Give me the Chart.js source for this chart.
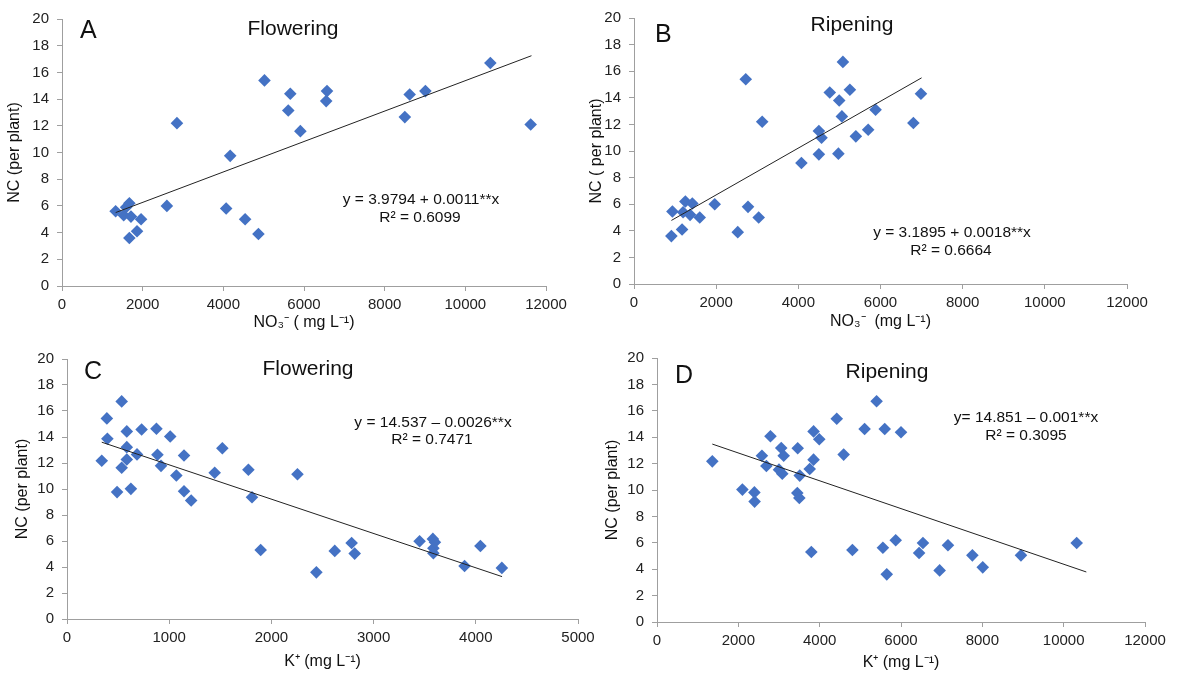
<!DOCTYPE html>
<html>
<head>
<meta charset="utf-8">
<script src="https://cdn.jsdelivr.net/npm/chart.js@4"></script>
<style>
body { margin: 0; background: #fff; }
#wrap { position: relative; width: 1185px; height: 673px; overflow: hidden; }
.panel { position: absolute; }
</style>
</head>
<body>
<div id="wrap">
  <div class="panel" style="left:0;top:0;width:590px;height:340px"><canvas id="chartA"></canvas></div>
  <div class="panel" style="left:580px;top:0;width:605px;height:340px"><canvas id="chartB"></canvas></div>
  <div class="panel" style="left:0;top:340px;width:600px;height:333px"><canvas id="chartC"></canvas></div>
  <div class="panel" style="left:600px;top:340px;width:585px;height:333px"><canvas id="chartD"></canvas></div>
</div>
<script>
// A: NO3- at flowering
const no3FlowX = [1330, 1530, 1590, 1670, 1710, 1960, 1860, 1670, 2600, 2850, 4070, 4170, 4540, 4870, 5020, 5610, 5660, 5910, 6550, 6570, 8500, 8620, 9010, 10620, 11620];
const no3FlowY = [5.6, 5.3, 5.9, 6.2, 5.2, 5.0, 4.1, 3.6, 6.0, 12.2, 5.8, 9.75, 5.0, 3.9, 15.4, 13.15, 14.4, 11.6, 13.85, 14.6, 12.65, 14.35, 14.6, 16.7, 12.1];
const no3FlowTrendX = [1330, 11640];
const no3FlowTrendY = [5.5, 17.25];

// B: NO3- at ripening
const no3RipeX = [910, 935, 1170, 1195, 1250, 1365, 1420, 1600, 1965, 2525, 2720, 2775, 3035, 3120, 4075, 4500, 4500, 4565, 4765, 4975, 4995, 5060, 5085, 5255, 5400, 5700, 5880, 6800, 6985];
const no3RipeY = [3.6, 5.45, 4.1, 5.4, 6.2, 5.2, 6.05, 5.0, 6.0, 3.9, 15.4, 5.8, 5.0, 12.2, 9.1, 9.75, 11.5, 11.0, 14.4, 9.8, 13.8, 12.6, 16.7, 14.6, 11.1, 11.6, 13.1, 12.1, 14.3];
const no3RipeTrendX = [910, 7000];
const no3RipeTrendY = [4.78, 15.5];

// C: K+ at flowering
const kFlowX = [340, 390, 395, 490, 535, 535, 585, 585, 585, 625, 685, 730, 875, 885, 920, 1010, 1070, 1145, 1145, 1215, 1445, 1520, 1775, 1810, 1895, 2255, 2440, 2620, 2785, 2815, 3450, 3580, 3585, 3585, 3600, 3890, 4045, 4255];
const kFlowY = [12.17, 15.43, 13.86, 9.76, 16.74, 11.63, 14.43, 13.22, 12.27, 10.01, 12.66, 14.58, 14.63, 12.63, 11.78, 14.04, 11.04, 12.58, 9.83, 9.11, 11.25, 13.14, 11.48, 9.37, 5.31, 11.14, 3.59, 5.24, 5.85, 5.03, 5.98, 6.16, 5.44, 5.06, 5.9, 4.08, 5.62, 3.93];
const kFlowTrendX = [340, 4257];
const kFlowTrendY = [13.6, 3.26];

// D: K+ at ripening
const kRipeX = [1360, 2100, 2395, 2400, 2580, 2690, 2790, 3000, 3055, 3080, 3115, 3460, 3450, 3500, 3510, 3755, 3795, 3850, 3850, 3990, 4420, 4590, 4805, 5105, 5400, 5555, 5600, 5650, 5870, 6000, 6445, 6540, 6950, 7155, 7755, 8010, 8950, 10320];
const kRipeY = [12.17, 10.03, 9.82, 9.12, 12.6, 11.82, 14.07, 11.54, 13.18, 11.24, 12.6, 13.16, 9.77, 9.39, 11.09, 11.59, 5.3, 14.44, 12.3, 13.84, 15.4, 12.68, 5.45, 14.62, 16.72, 5.63, 14.62, 3.61, 6.19, 14.37, 5.23, 5.98, 3.91, 5.81, 5.05, 4.14, 5.05, 5.98];
const kRipeTrendX = [1360, 10557];
const kRipeTrendY = [13.48, 3.79];

const FONT = "'Liberation Sans', Arial, sans-serif";
Chart.defaults.font.family = FONT;
Chart.defaults.color = '#222';

const notesPlugin = {
    id: 'notes',
    afterDraw(chart, args, opts) {
        const ctx = chart.ctx;
        ctx.save();
        ctx.fillStyle = '#111';
        ctx.textBaseline = 'alphabetic';
        opts.items.forEach(t => {
            ctx.font = t.size + 'px ' + FONT;
            ctx.textAlign = t.align || 'center';
            ctx.fillText(t.text, t.x, t.y);
        });
        ctx.restore();
    }
};

function makePanel(id, xs, ys, tx, ty, cfg) {
    const points = xs.map((x, i) => ({x: x, y: ys[i]}));
    const trend = tx.map((x, i) => ({x: x, y: ty[i]}));
    const axisColor = '#9f9f9f';

    new Chart(document.getElementById(id), {
        type: 'scatter',
        data: {
            datasets: [{
                data: trend,
                showLine: true,
                borderColor: '#222',
                borderWidth: 1,
                pointRadius: 0,
                order: 0
            }, {
                data: points,
                pointStyle: 'rectRot',
                pointRadius: 6.3,
                pointHoverRadius: 6.3,
                backgroundColor: '#4472C4',
                borderColor: '#4472C4',
                borderWidth: 0,
                order: 1
            }]
        },
        options: {
            animation: false,
            responsive: true,
            maintainAspectRatio: false,
            layout: { padding: cfg.pad },
            plugins: {
                legend: { display: false },
                tooltip: { enabled: false },
                notes: { items: cfg.notes }
            },
            scales: {
                x: {
                    type: 'linear',
                    min: 0,
                    max: cfg.xMax,
                    afterFit: s => { s.height = cfg.xH; },
                    ticks: {
                        stepSize: cfg.xStep,
                        autoSkip: false,
                        maxRotation: 0,
                        padding: 5,
                        font: { size: 15 },
                        callback: v => String(v)
                    },
                    grid: { drawOnChartArea: false, color: axisColor, tickLength: 5 },
                    border: { color: axisColor },
                    title: {
                        display: true,
                        text: cfg.xTitle,
                        font: { size: 16 },
                        color: '#111',
                        padding: { top: 0, bottom: cfg.xTitlePad }
                    }
                },
                y: {
                    min: 0,
                    max: 20,
                    afterFit: s => { s.width = cfg.yW; },
                    ticks: {
                        stepSize: 2,
                        autoSkip: false,
                        padding: 8,
                        font: { size: 15 }
                    },
                    grid: { drawOnChartArea: false, color: axisColor, tickLength: 5 },
                    border: { color: axisColor },
                    title: {
                        display: true,
                        text: cfg.yTitle,
                        font: { size: 16 },
                        color: '#111',
                        padding: { top: cfg.yTitlePad, bottom: 0 }
                    }
                }
            }
        },
        plugins: [notesPlugin]
    });
}

makePanel('chartA', no3FlowX, no3FlowY, no3FlowTrendX, no3FlowTrendY, {
    pad: { top: 19, right: 44, left: 0, bottom: 0 },
    yW: 62, xH: 54, xMax: 12000, xStep: 2000,
    xTitle: 'NO\u2083\u207B ( mg L\u207B\u00B9)', xTitlePad: 7.4,
    yTitle: 'NC (per plant)', yTitlePad: 5.4,
    notes: [
        { text: 'A', x: 80, y: 38, size: 25, align: 'left' },
        { text: 'Flowering', x: 293, y: 35, size: 21 },
        { text: 'y = 3.9794 + 0.0011**x', x: 421, y: 204, size: 15.5 },
        { text: 'R\u00B2 = 0.6099', x: 420, y: 222, size: 15.5 }
    ]
});

makePanel('chartB', no3RipeX, no3RipeY, no3RipeTrendX, no3RipeTrendY, {
    pad: { top: 18, right: 58, left: 0, bottom: 0 },
    yW: 54, xH: 56, xMax: 12000, xStep: 2000,
    xTitle: 'NO\u2083\u207B  (mg L\u207B\u00B9)', xTitlePad: 8.4,
    yTitle: 'NC ( per plant)', yTitlePad: 7.4,
    notes: [
        { text: 'B', x: 75, y: 42, size: 25, align: 'left' },
        { text: 'Ripening', x: 272, y: 31, size: 21 },
        { text: 'y = 3.1895 + 0.0018**x', x: 372, y: 237, size: 15.5 },
        { text: 'R\u00B2 = 0.6664', x: 371, y: 255, size: 15.5 }
    ]
});

makePanel('chartC', kFlowX, kFlowY, kFlowTrendX, kFlowTrendY, {
    pad: { top: 19, right: 22, left: 0, bottom: 0 },
    yW: 67, xH: 54, xMax: 5000, xStep: 1000,
    xTitle: 'K\u207A (mg L\u207B\u00B9)', xTitlePad: 1.7,
    yTitle: 'NC (per plant)', yTitlePad: 13,
    notes: [
        { text: 'C', x: 84, y: 39, size: 25, align: 'left' },
        { text: 'Flowering', x: 308, y: 35, size: 21 },
        { text: 'y = 14.537 \u2013 0.0026**x', x: 433, y: 87, size: 15.5 },
        { text: 'R\u00B2 = 0.7471', x: 432, y: 104, size: 15.5 }
    ]
});

makePanel('chartD', kRipeX, kRipeY, kRipeTrendX, kRipeTrendY, {
    pad: { top: 18, right: 40, left: 0, bottom: 0 },
    yW: 57, xH: 51, xMax: 12000, xStep: 2000,
    xTitle: 'K\u207A (mg L\u207B\u00B9)', xTitlePad: 0.4,
    yTitle: 'NC (per plant)', yTitlePad: 3.4,
    notes: [
        { text: 'D', x: 75, y: 43, size: 25, align: 'left' },
        { text: 'Ripening', x: 287, y: 38, size: 21 },
        { text: 'y= 14.851 \u2013 0.001**x', x: 426, y: 82, size: 15.5 },
        { text: 'R\u00B2 = 0.3095', x: 426, y: 100, size: 15.5 }
    ]
});
</script>
</body>
</html>
